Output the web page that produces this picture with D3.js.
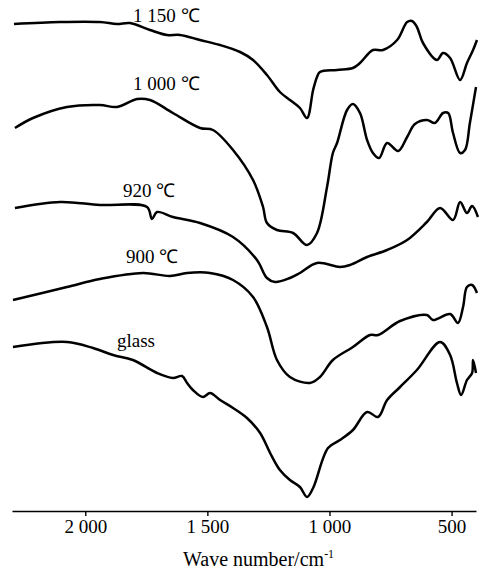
<!DOCTYPE html>
<html>
<head>
<meta charset="utf-8">
<script src="https://cdn.jsdelivr.net/npm/d3@7"></script>
<style>
	body { margin: 0; background: #fff; }
	text { font-family: "Liberation Serif", "Times New Roman", serif; fill: #000; }
</style>
</head>
<body>
<svg id="chart" width="482" height="571"></svg>
<script>
// wave numbers (cm-1) and transmittance (a.u., offset per curve)
const wave1150 = [2292, 2103, 1940, 1870, 1817, 1735, 1665, 1612, 1530, 1448, 1366, 1313, 1256, 1203, 1162, 1121, 1092, 1067, 1051, 1039, 969, 904, 875, 822, 781, 723, 682, 662, 642, 617, 560, 535, 506, 465, 437, 412, 396];
const val1150  = [487, 489, 489, 487, 488, 481, 476, 476, 471, 466, 459, 451, 436, 419, 411, 403, 393, 421, 434, 439, 441, 443, 448, 461, 461, 471, 489, 490, 484, 468, 451, 458, 453, 431, 448, 461, 471];

const wave1000 = [2288, 2214, 2075, 1940, 1870, 1788, 1735, 1641, 1530, 1477, 1395, 1313, 1272, 1256, 1215, 1149, 1092, 1051, 1010, 986, 969, 928, 904, 875, 846, 822, 797, 764, 719, 682, 650, 601, 568, 535, 514, 494, 465, 445, 425, 400];
const val1000  = [383, 393, 404, 406, 404, 412, 411, 398, 383, 381, 361, 331, 304, 288, 281, 278, 266, 278, 324, 358, 368, 401, 407, 398, 371, 358, 353, 368, 360, 374, 387, 391, 388, 398, 398, 378, 358, 361, 388, 424];

const wave920 = [2288, 2103, 1940, 1747, 1727, 1706, 1641, 1530, 1395, 1297, 1256, 1223, 1162, 1121, 1051, 957, 916, 846, 764, 682, 601, 547, 494, 465, 437, 416, 392];
const val920  = [303, 309, 306, 304, 292, 299, 294, 288, 274, 251, 233, 229, 233, 238, 248, 244, 246, 254, 261, 271, 289, 303, 291, 309, 298, 305, 294];

const wave900 = [2296, 2075, 1940, 1764, 1653, 1583, 1489, 1395, 1313, 1256, 1215, 1162, 1080, 1039, 986, 904, 834, 801, 711, 601, 576, 506, 474, 453, 437, 416, 396];
const val900  = [211, 224, 232, 238, 235, 238, 238, 231, 214, 184, 151, 134, 128, 134, 151, 164, 176, 176, 190, 196, 191, 197, 188, 204, 224, 226, 218];

const waveGlass = [2296, 2075, 1968, 1886, 1805, 1706, 1641, 1604, 1583, 1559, 1518, 1489, 1448, 1395, 1338, 1284, 1243, 1203, 1162, 1121, 1092, 1067, 1006, 957, 904, 846, 801, 764, 711, 642, 547, 506, 478, 461, 437, 416, 412, 400];
const valGlass  = [164, 169, 163, 156, 151, 138, 133, 135, 128, 121, 114, 118, 111, 103, 93, 78, 58, 41, 31, 24, 14, 23, 63, 71, 81, 99, 94, 111, 124, 141, 169, 156, 128, 116, 131, 138, 151, 138];

const seriesNames = ["1 150 ℃", "1 000 ℃", "920 ℃", "900 ℃", "glass"];
const xTicks = [2000, 1500, 1000, 500];

const series = [
	{ name: seriesNames[0], w: wave1150, v: val1150, lx: 133, ly: 22 },
	{ name: seriesNames[1], w: wave1000, v: val1000, lx: 133, ly: 90 },
	{ name: seriesNames[2], w: wave920, v: val920, lx: 123, ly: 197 },
	{ name: seriesNames[3], w: wave900, v: val900, lx: 126, ly: 263 },
	{ name: seriesNames[4], w: waveGlass, v: valGlass, lx: 117, ly: 347 }
];

const svg = d3.select("#chart");

let x = d3.scaleLinear()
	.domain([2300, 400])
	.range([12, 476]);

let y = d3.scaleLinear()
	.domain([0, 500])
	.range([511, 11]);

const line = d3.line()
	.x(d => x(d[0]))
	.y(d => y(d[1]))
	.curve(d3.curveCatmullRom.alpha(0.5));

series.forEach(s => {
	const pts = s.w.map((w, i) => [w, s.v[i]]);
	svg.append("path")
		.attr("d", line(pts))
		.attr("fill", "none")
		.attr("stroke", "#000")
		.attr("stroke-width", 2.5)
		.attr("stroke-linejoin", "round");

	svg.append("text")
		.attr("x", s.lx)
		.attr("y", s.ly)
		.style("font-size", "19px")
		.text(s.name);
});

// x axis, thousands separated by a space
const fmt = d => d >= 1000 ? Math.floor(d / 1000) + " " + String(d % 1000).padStart(3, "0") : String(d);

const axis = svg.append("g")
	.attr("transform", "translate(0,511)")
	.call(d3.axisBottom(x).tickValues(xTicks).tickFormat(fmt).tickSize(5).tickSizeOuter(0));

axis.select(".domain").attr("stroke", "#000").attr("stroke-width", 1.4);
axis.selectAll(".tick line").attr("stroke", "#000").attr("stroke-width", 1.4);
axis.selectAll(".tick text")
	.attr("y", 9)
	.attr("dy", "0.71em")
	.style("font-family", "'Liberation Serif', serif")
	.style("font-size", "19px")
	.attr("fill", "#000");

const title = svg.append("text")
	.attr("x", 183)
	.attr("y", 566)
	.style("font-size", "20px");
title.append("tspan").text("Wave number/cm");
title.append("tspan")
	.attr("dy", -8)
	.style("font-size", "12px")
	.text("-1");
</script>
</body>
</html>
